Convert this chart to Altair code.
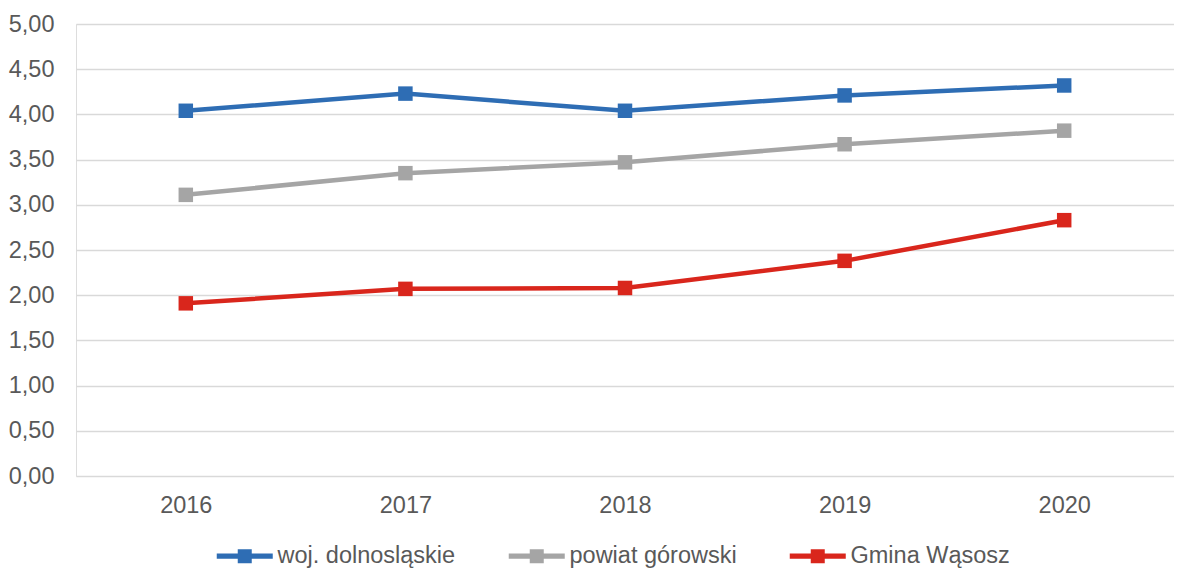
import altair as alt
import pandas as pd

years = ["2016", "2017", "2018", "2019", "2020"]
series_names = ["woj. dolnosląskie", "powiat górowski", "Gmina Wąsosz"]
woj = [4.04, 4.23, 4.04, 4.21, 4.32]
powiat = [3.11, 3.35, 3.47, 3.67, 3.82]
gmina = [1.91, 2.07, 2.08, 2.38, 2.83]
colors = ["#2E6DB4", "#A5A5A5", "#D9261C"]
y_ticks = [0, 0.5, 1, 1.5, 2, 2.5, 3, 3.5, 4, 4.5, 5]

rows = []
for name, vals in zip(series_names, [woj, powiat, gmina]):
    for yr, v in zip(years, vals):
        rows.append({"year": yr, "series": name, "value": v})
df = pd.DataFrame(rows)

FONT = "Liberation Sans"
TXT = "#595959"
FS = 23.5

x_enc = alt.X("year:N", sort=years, title=None,
              scale=alt.Scale(paddingInner=0, paddingOuter=0.5),
              axis=alt.Axis(labelAngle=0, labelFontSize=FS, labelColor=TXT, labelFont=FONT,
                            ticks=False, domain=False, grid=False, labelPadding=17))
y_enc = alt.Y("value:Q", title=None,
              scale=alt.Scale(domain=[0, 5], nice=False),
              axis=alt.Axis(values=y_ticks, format=".2f",
                            labelExpr="replace(datum.label, '.', ',')",
                            labelFontSize=FS, labelColor=TXT, labelFont=FONT,
                            ticks=False, domain=False, gridColor="#D9D9D9",
                            gridWidth=1.5, labelPadding=22))
color_scale = alt.Scale(domain=series_names, range=colors)

sym = "M-4,-0.36H4V0.36H-4Z M-1,-1H1V1H-1Z"

base = alt.Chart(df)
lines = base.mark_line(strokeWidth=4.5).encode(
    x=x_enc, y=y_enc,
    color=alt.Color("series:N", scale=color_scale, sort=series_names, legend=None),
    detail="series:N",
)
points = base.mark_point(shape="square", filled=True, size=210, opacity=1).encode(
    x=x_enc, y=y_enc,
    color=alt.Color("series:N", scale=color_scale, sort=series_names,
                    legend=alt.Legend(title=None, orient="none", legendX=136, legendY=520,
                                      direction="horizontal",
                                      columns=3, symbolType=sym, symbolSize=196,
                                      symbolStrokeWidth=0, symbolOffset=21,
                                      labelOffset=21, labelFontSize=FS, labelColor=TXT,
                                      labelFont=FONT, labelLimit=400, columnPadding=48,
                                      symbolOpacity=1)),
)

chart = alt.layer(lines, points).resolve_legend(color="independent").properties(
    width=1098, height=452,
    padding={"top": 4, "left": 0, "right": 0, "bottom": 0},
).configure_view(stroke=None).configure(background="white")

chart.save("out.html", embed_options={"renderer": "svg", "actions": False})
